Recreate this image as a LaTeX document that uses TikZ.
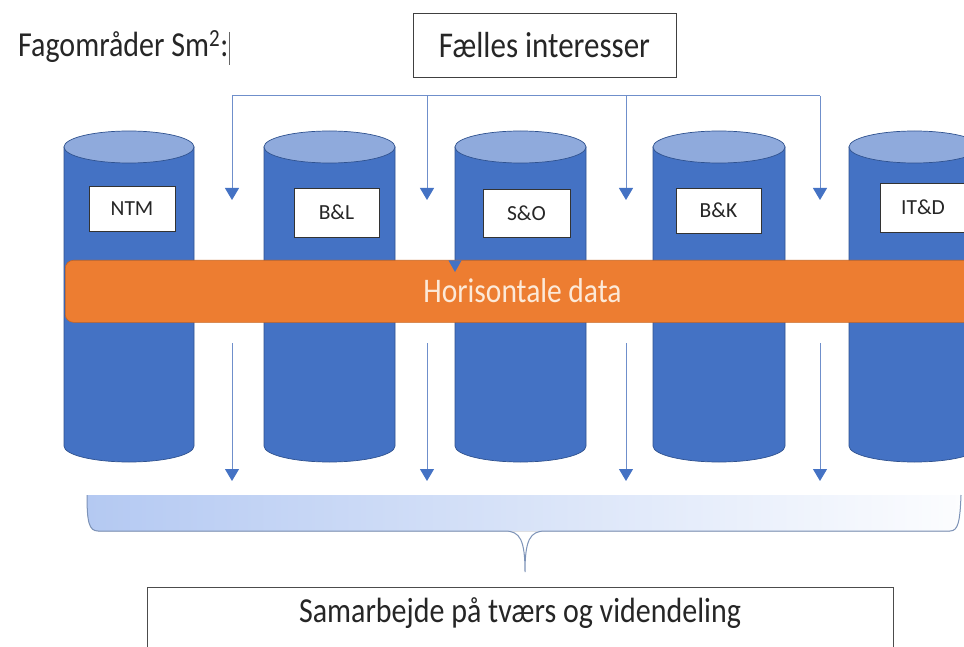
\documentclass[tikz,border=0pt]{standalone}
\usepackage{fontspec}
\setmainfont{Carlito}
\usetikzlibrary{arrows.meta}
\definecolor{cylblue}{HTML}{4472C4}
\definecolor{cyltop}{HTML}{8FAADC}
\definecolor{cyledge}{HTML}{2F528F}
\definecolor{orng}{HTML}{ED7D31}
\definecolor{orngedge}{HTML}{C9641E}
\definecolor{arrline}{HTML}{6F8FCB}
\definecolor{txtdark}{HTML}{262626}
\definecolor{bracel}{HTML}{B4C9F2}
\definecolor{bracem}{HTML}{C4D5F5}
\definecolor{braceedge}{HTML}{7D93B8}
\definecolor{cream}{HTML}{FCE9D8}
\newcommand\tallt[1]{\scalebox{1}[1.17]{#1}}
\begin{document}
\begin{tikzpicture}[x=1pt,y=-1pt,
  lab/.style={draw=black!80, fill=white, line width=0.8pt, inner sep=0pt,
    font=\fontsize{21.5}{24}\selectfont, text=txtdark},
  bigtxt/.style={font=\fontsize{30}{36}\selectfont, text=txtdark, inner sep=0pt},
  flow/.style={draw=arrline, line width=1pt,
    -{Triangle[width=14pt,length=12pt,color=cylblue]}},
  hline/.style={draw=arrline, line width=1pt}]
\useasboundingbox (0,0) rectangle (964,647);
\clip (0,0) rectangle (964,647);
\fill[white] (0,0) rectangle (964,647);

% title text and cursor
\node[bigtxt, anchor=base west] (fag) at (18,57) {\tallt{Fagområder Sm\textsuperscript{2}:}};
\draw[black!60, line width=0.8pt] (229.5,32) -- (229.5,65);

% Faelles interesser box
\node[draw=black!75, line width=0.8pt, minimum width=263pt, minimum height=64pt,
  inner sep=0pt, font=\fontsize{31}{36}\selectfont, text=txtdark] (faelles) at (544.5,45) {\tallt{Fælles interesser}};

% cylinders
\foreach \xl/\xr in {64/194, 264/395, 455/586, 653/785, 849/980}{
  \pgfmathsetmacro\rx{(\xr-\xl)/2}
  \pgfmathsetmacro\xc{(\xr+\xl)/2}
  \filldraw[fill=cylblue, draw=cyledge, line width=0.7pt]
    (\xl,147) -- (\xl,446) arc[start angle=180, end angle=0, x radius=\rx, y radius=16] -- (\xr,147) -- cycle;
  \filldraw[fill=cyltop, draw=cyledge, line width=0.7pt] (\xc,147) ellipse [x radius=\rx, y radius=16];
}

% labels
\node[lab, minimum width=86pt, minimum height=45pt] (ntm) at (132,208.5) {NTM};
\node[lab, minimum width=85pt, minimum height=49pt] (bl) at (336.5,212.5) {B\&L};
\node[lab, minimum width=87pt, minimum height=48pt] (so) at (526.5,213) {S\&O};
\node[lab, minimum width=85pt, minimum height=45pt] (bk) at (718.5,210.5) {B\&K};
\node[lab, minimum width=86pt, minimum height=49pt] (itd) at (923,207.5) {IT\&D};

% top arrows
\coordinate (t1) at (232,96);
\coordinate (t2) at (427,96);
\coordinate (t3) at (626,96);
\coordinate (t4) at (820,96);
\coordinate (a1) at (232,200);
\coordinate (a2) at (427,200);
\coordinate (a3) at (626,200);
\coordinate (a4) at (820,200);
\draw[hline] (t1) -- (t4);
\foreach \i in {1,2,3,4}{\draw[flow] (t\i) -- (a\i);}

% orange bar
\node[fill=orng, draw=orngedge, line width=0.6pt, rounded corners=8pt, minimum width=930pt,
  minimum height=62pt, inner sep=0pt, anchor=north west] (bar) at (65,260) {};
\node[font=\fontsize{29.5}{34}\selectfont, text=cream, inner sep=0pt, anchor=base] (hor) at (522.5,302) {\tallt{Horisontale data}};
\fill[cylblue] (448.5,260.5) -- (461.5,260.5) -- (455,272) -- cycle;

% bottom arrows
\coordinate (b1) at (232,343);
\coordinate (b2) at (427,343);
\coordinate (b3) at (626,343);
\coordinate (b4) at (820,343);
\coordinate (c1) at (232,481);
\coordinate (c2) at (427,481);
\coordinate (c3) at (626,481);
\coordinate (c4) at (820,481);
\foreach \i in {1,2,3,4}{\draw[flow] (b\i) -- (c\i);}

% brace
\fill[left color=bracel, middle color=bracem, right color=white!96!bracel]
  (87,495) .. controls (87,522) and (89,531) .. (98,531) -- (950,531)
  .. controls (958,531) and (960,522) .. (961,495) -- cycle;
\draw[braceedge, line width=1pt]
  (87,495) .. controls (87,522) and (89,531) .. (98,531) -- (505,531)
  .. controls (520,531) and (525,540) .. (525,572)
  .. controls (525,540) and (530,531) .. (545,531) -- (950,531)
  .. controls (958,531) and (960,522) .. (961,495);

% bottom box
\node[draw=black!70, line width=1pt, minimum width=746pt, minimum height=90pt, inner sep=0pt,
  anchor=north west] (samarbox) at (147,587) {};
\node[bigtxt, anchor=base] (samar) at (520,622) {\tallt{Samarbejde på tværs og videndeling}};
\end{tikzpicture}
\end{document}
